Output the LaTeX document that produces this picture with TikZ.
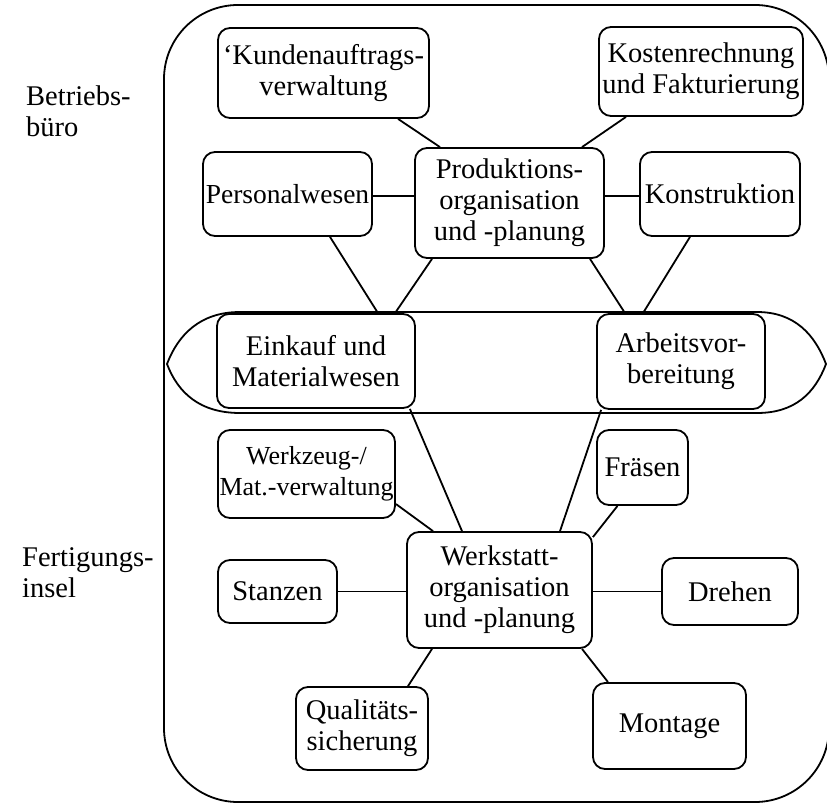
\documentclass[tikz,border=0pt]{standalone}
\usepackage{fontspec}
\setmainfont{Liberation Serif}
\begin{document}
\pgfdeclarelayer{bg}
\pgfsetlayers{bg,main}
\begin{tikzpicture}[x=1pt,y=-1pt,
  box/.style={draw,line width=1.8pt,rounded corners=12pt,fill=white,align=center,
    inner sep=0pt,font=\fontsize{28.5}{31}\selectfont},
  smalltext/.style={font=\fontsize{26}{31}\selectfont},
  link/.style={line width=1.8pt},
  frame/.style={line width=1.8pt},
  side/.style={align=left,inner sep=0pt,anchor=west,font=\fontsize{28.5}{31}\selectfont}]
\useasboundingbox (0,0) rectangle (827,805);

% side labels
\node[side] (lbuero) at (26,111) {Betriebs-\\büro};
\node[side] (linsel) at (22,573) {Fertigungs-\\insel};

% office area
\node[box,minimum width=211pt,minimum height=90pt] (kunden) at (323.5,73) {`Kundenauftrags-\\verwaltung};
\node[box,minimum width=204pt,minimum height=89pt] (kosten) at (701,71.5) {Kostenrechnung\\und Fakturierung};
\node[box,smalltext,font=\fontsize{27.5}{31}\selectfont,minimum width=169pt,minimum height=84pt] (personal) at (287.5,194) {Personalwesen};
\node[box,minimum width=189pt,minimum height=110pt] (produktion) at (509.5,203) {Produktions-\\organisation\\und -planung};
\node[box,minimum width=160pt,minimum height=84pt] (konstruktion) at (720,194) {Konstruktion};

% shared area
\node[box,minimum width=198pt,minimum height=94pt] (einkauf) at (316,361) {Einkauf und\\Materialwesen};
\node[box,minimum width=168pt,minimum height=95pt] (arbeit) at (681,361.5) {Arbeitsvor-\\bereitung};

% production island
\node[box,smalltext,minimum width=177pt,minimum height=88pt] (werkzeug) at (306.5,474) {Werkzeug-/\\Mat.-verwaltung};
\node[box,minimum width=91pt,minimum height=75pt] (fraesen) at (642.5,467.5) {Fräsen};
\node[box,minimum width=185pt,minimum height=116pt] (werkstatt) at (499.5,590) {Werkstatt-\\organisation\\und -planung};
\node[box,minimum width=119pt,minimum height=63pt] (stanzen) at (277.5,591.5) {Stanzen};
\node[box,minimum width=136pt,minimum height=67pt] (drehen) at (730,591.5) {Drehen};
\node[box,minimum width=132pt,minimum height=83pt] (quali) at (362,728.5) {Qualitäts-\\sicherung};
\node[box,minimum width=153pt,minimum height=86pt] (montage) at (669.5,726) {Montage};

\begin{pgfonlayer}{bg}
  % outer frame and shared zone
  \draw[frame,rounded corners=74pt] (164,5) rectangle (829,802);
  \draw[frame] (240,312) -- (757,312)
    .. controls (795,312) and (815,335) .. (826,364)
    .. controls (815,393) and (795,413) .. (757,413)
    -- (240,413)
    .. controls (200,413) and (178,393) .. (167,364)
    .. controls (178,335) and (200,312) .. (240,312) -- cycle;

  % office connectors
  \draw[link] ([xshift=74.5pt]kunden.south) -- ([xshift=-69.5pt]produktion.north);
  \draw[link] ([xshift=-75pt]kosten.south) -- ([xshift=72.5pt]produktion.north);
  \draw[link] ([yshift=-2pt]personal.east) -- ([yshift=-2pt]produktion.west |- personal.east);
  \draw[link] ([yshift=-2pt]konstruktion.west) -- ([yshift=-2pt]produktion.east |- konstruktion.west);
  \draw[link] ([xshift=42.5pt]personal.south) -- ([xshift=62pt]einkauf.north);
  \draw[link] ([xshift=-77.5pt]produktion.south) -- ([xshift=79pt]einkauf.north);
  \draw[link] ([xshift=80.5pt]produktion.south) -- ([xshift=-56pt]arbeit.north);
  \draw[link] ([xshift=-30pt]konstruktion.south) -- ([xshift=-38pt]arbeit.north);

  % island connectors
  \draw[link] ([xshift=-6pt]einkauf.south east) -- ([xshift=-37.5pt]werkstatt.north);
  \draw[link] ([xshift=5pt]arbeit.south west) -- ([xshift=60.5pt]werkstatt.north);
  \draw[link] ([yshift=-30pt]werkzeug.east) -- ([xshift=-66.5pt]werkstatt.north);
  \draw[link] ([xshift=-25pt]fraesen.south) -- ([yshift=-6pt]werkstatt.north east);
  \draw[link] (stanzen.east) -- (werkstatt.west |- stanzen.east);
  \draw[link] (drehen.west) -- (werkstatt.east |- drehen.west);
  \draw[link] ([xshift=46pt]quali.north) -- ([xshift=-67.5pt]werkstatt.south);
  \draw[link] ([xshift=-61.5pt]montage.north) -- ([xshift=82.5pt]werkstatt.south);
\end{pgfonlayer}
\end{tikzpicture}
\end{document}
